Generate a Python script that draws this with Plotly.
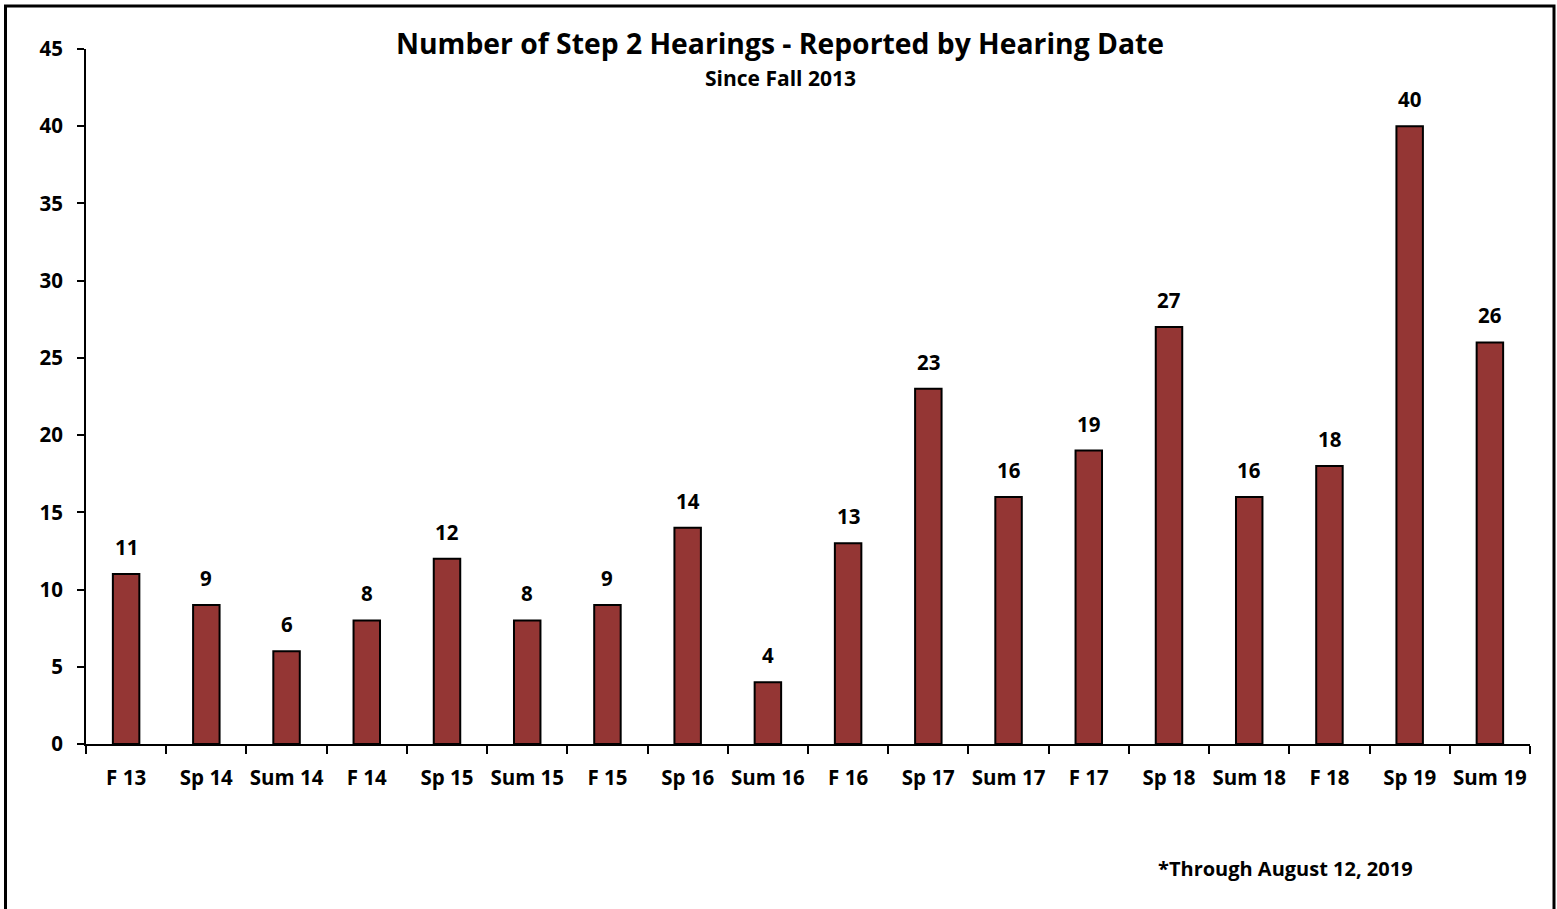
import plotly.graph_objects as go

categories = ["F 13", "Sp 14", "Sum 14", "F 14", "Sp 15", "Sum 15", "F 15", "Sp 16", "Sum 16",
              "F 16", "Sp 17", "Sum 17", "F 17", "Sp 18", "Sum 18", "F 18", "Sp 19", "Sum 19"]
hearings = [11, 9, 6, 8, 12, 8, 9, 14, 4, 13, 23, 16, 19, 27, 16, 18, 40, 26]
y_ticks = [0, 5, 10, 15, 20, 25, 30, 35, 40, 45]

FONT = "Open Sans"
BAR_COLOR = "#943634"

W, H = 1557, 909
L, R, T, B = 86, 27, 49, 165
pw, ph = W - L - R, H - T - B

fig = go.Figure()
fig.add_trace(go.Bar(
    x=categories, y=hearings,
    marker=dict(color=BAR_COLOR, line=dict(color="black", width=2)),
    width=0.33,
    hoverinfo="x+y",
))

for c, v in zip(categories, hearings):
    fig.add_annotation(x=c, y=v, text=f"<b>{v}</b>", showarrow=False,
                       yanchor="bottom", yshift=11,
                       font=dict(family=FONT, size=20.5, color="black"))

title_x = (780 - L) / pw
fig.add_annotation(xref="paper", yref="paper", x=title_x, y=1.0, yanchor="middle", yshift=6,
                   text="<b>Number of Step 2 Hearings - Reported by Hearing Date</b>",
                   showarrow=False, font=dict(family=FONT, size=28.3, color="black"))
fig.add_annotation(xref="paper", yref="paper", x=title_x, y=1.0, yanchor="middle", yshift=-29,
                   text="<b>Since Fall 2013</b>",
                   showarrow=False, font=dict(family=FONT, size=21, color="black"))
fig.add_annotation(xref="paper", yref="paper", x=(1156 - L) / pw, y=(744 - 868) / ph,
                   xanchor="left", yanchor="middle",
                   text="<b>*Through August 12, 2019</b>",
                   showarrow=False, font=dict(family=FONT, size=20, color="black"))

# outer frame
fig.add_shape(type="rect", xref="paper", yref="paper",
              x0=(5.5 - L) / pw, x1=(1554 - L) / pw,
              y0=(744 - 1200) / ph, y1=(744 - 6) / ph,
              line=dict(color="black", width=3), fillcolor="rgba(0,0,0,0)", layer="above")

fig.update_layout(
    width=W, height=H,
    margin=dict(l=L, r=R, t=T, b=B, pad=0, autoexpand=False),
    paper_bgcolor="white", plot_bgcolor="white",
    showlegend=False,
    font=dict(family=FONT, color="black"),
)
fig.update_xaxes(
    type="category", showline=True, linecolor="black", linewidth=2,
    ticks="outside", tickson="boundaries", ticklen=8, tickwidth=2, tickcolor="black",
    tickfont=dict(family=FONT, size=20.5, color="black"), ticklabelstandoff=14,
    tickangle=0, automargin=False,
    showgrid=False, zeroline=False,
    tickvals=categories, ticktext=[f"<b>{c}</b>" for c in categories],
)
fig.update_yaxes(
    range=[0, 45], showline=True, linecolor="black", linewidth=2,
    ticks="outside", ticklen=7, tickwidth=2, tickcolor="black",
    tickvals=y_ticks, ticktext=[f"<b>{t}</b>" for t in y_ticks],
    tickfont=dict(family=FONT, size=20.5, color="black"), ticklabelstandoff=10,
    automargin=False,
    showgrid=False, zeroline=False,
)

fig.write_html("out.html", config={"displayModeBar": False},
               post_script="document.body.style.margin='0';document.body.style.overflow='hidden';")
